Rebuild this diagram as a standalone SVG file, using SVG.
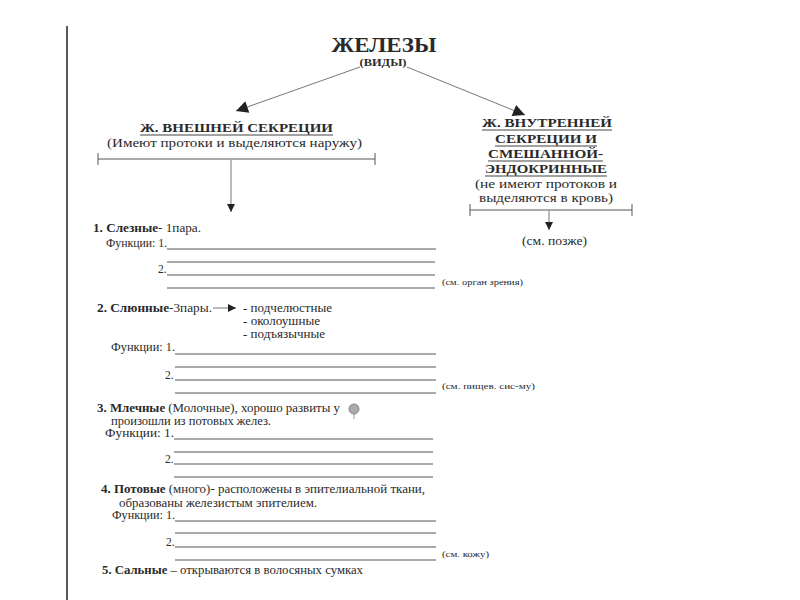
<svg xmlns="http://www.w3.org/2000/svg" width="800" height="600" viewBox="0 0 800 600">
<style>
text{font-family:'Liberation Serif','DejaVu Serif',serif;fill:#2a2a2a}
.b{font-weight:bold}
.h{font-size:13px;font-weight:bold}
.s{font-size:13px}
.t{font-size:12px}
.f{font-size:11.5px}
.n{font-size:9px}
.ln{stroke:#555;stroke-width:1;fill:none}
.ul{stroke:#444;stroke-width:1}
.con{stroke:#777;stroke-width:1;fill:none}
</style>
<defs>
<marker id="ah" viewBox="0 0 10 10" refX="10" refY="5" markerWidth="8" markerHeight="8" markerUnits="userSpaceOnUse" orient="auto"><path d="M0,0L10,5L0,10z" fill="#222"/></marker>
<marker id="ahb" viewBox="0 0 10 10" refX="10" refY="5" markerWidth="16" markerHeight="12" markerUnits="userSpaceOnUse" orient="auto"><path d="M0,0L10,5L0,10z" fill="#222"/></marker>
</defs>
<rect width="800" height="600" fill="#fff"/>
<line x1="67" y1="26" x2="67" y2="600" stroke="#222" stroke-width="1.5"/>

<g id="title">
<text x="384" y="52" text-anchor="middle" style="font-size:21px;font-weight:bold" textLength="105" lengthAdjust="spacingAndGlyphs">ЖЕЛЕЗЫ</text>
<text x="383" y="66" text-anchor="middle" class="b" style="font-size:11px" textLength="47" lengthAdjust="spacingAndGlyphs">(ВИДЫ)</text>
</g>

<g id="connectors">
<line class="con" x1="360" y1="67" x2="236" y2="111" marker-end="url(#ahb)"/>
<line class="con" x1="407" y1="67" x2="525" y2="115" marker-end="url(#ahb)"/>
<line class="con" x1="231" y1="160" x2="231" y2="212" marker-end="url(#ah)"/>
<line class="con" x1="549" y1="211" x2="549" y2="230" marker-end="url(#ah)"/>
<line class="con" x1="213" y1="308" x2="236" y2="308" marker-end="url(#ah)"/>
</g>

<g id="exocrine">
<text x="140" y="132" class="h" textLength="193" lengthAdjust="spacingAndGlyphs">Ж. ВНЕШНЕЙ СЕКРЕЦИИ</text>
<line class="ul" x1="140" y1="135" x2="333" y2="135"/>
<text x="107" y="147" class="s" textLength="255" lengthAdjust="spacingAndGlyphs">(Имеют протоки и выделяются наружу)</text>
<line class="ln" x1="98" y1="159" x2="375" y2="159"/>
<line class="ln" x1="98" y1="153" x2="98" y2="165"/>
<line class="ln" x1="375" y1="153" x2="375" y2="165"/>
</g>

<g id="endocrine">
<text x="482" y="127" class="h" textLength="130" lengthAdjust="spacingAndGlyphs">Ж. ВНУТРЕННЕЙ</text>
<line class="ul" x1="482" y1="130" x2="612" y2="130"/>
<text x="495" y="143" class="h" textLength="102" lengthAdjust="spacingAndGlyphs">СЕКРЕЦИИ И</text>
<line class="ul" x1="495" y1="146" x2="597" y2="146"/>
<text x="488" y="158" class="h" textLength="115" lengthAdjust="spacingAndGlyphs">СМЕШАННОЙ-</text>
<line class="ul" x1="488" y1="161" x2="603" y2="161"/>
<text x="485" y="173" class="h" textLength="122" lengthAdjust="spacingAndGlyphs">ЭНДОКРИННЫЕ</text>
<line class="ul" x1="485" y1="176" x2="607" y2="176"/>
<text x="475" y="188" class="s" textLength="142" lengthAdjust="spacingAndGlyphs">(не имеют протоков и</text>
<text x="479" y="202" class="s" textLength="134" lengthAdjust="spacingAndGlyphs">выделяются в кровь)</text>
<line class="ln" x1="470" y1="210" x2="632" y2="210"/>
<line class="ln" x1="470" y1="204" x2="470" y2="216"/>
<line class="ln" x1="632" y1="204" x2="632" y2="216"/>
<text x="522" y="245" class="t" textLength="65" lengthAdjust="spacingAndGlyphs">(см. позже)</text>
</g>

<g id="item1">
<text x="93" y="232" class="t" textLength="108" lengthAdjust="spacingAndGlyphs"><tspan class="b">1. Слезные</tspan>- 1пара.</text>
<text x="106" y="247" class="f" textLength="61" lengthAdjust="spacingAndGlyphs">Функции: 1.</text>
<line class="ln" x1="167" y1="249" x2="436" y2="249"/>
<line class="ln" x1="167" y1="262" x2="435" y2="262"/>
<text x="158" y="273" class="f">2.</text>
<line class="ln" x1="167" y1="275" x2="435" y2="275"/>
<line class="ln" x1="167" y1="288" x2="435" y2="288"/>
<text x="442" y="285" class="n" textLength="81" lengthAdjust="spacingAndGlyphs">(см. орган зрения)</text>
</g>

<g id="item2">
<text x="97" y="312" class="t" textLength="115" lengthAdjust="spacingAndGlyphs"><tspan class="b">2. Слюнные</tspan>-3пары.</text>
<text x="243" y="312" class="f" textLength="89" lengthAdjust="spacingAndGlyphs">- подчелюстные</text>
<text x="243" y="325" class="f" textLength="77" lengthAdjust="spacingAndGlyphs">- околоушные</text>
<text x="243" y="338" class="f" textLength="82" lengthAdjust="spacingAndGlyphs">- подъязычные</text>
<text x="111" y="351" class="f" textLength="64" lengthAdjust="spacingAndGlyphs">Функции: 1.</text>
<line class="ln" x1="175" y1="354" x2="436" y2="354"/>
<line class="ln" x1="175" y1="367" x2="436" y2="367"/>
<text x="165" y="379" class="f">2.</text>
<line class="ln" x1="175" y1="380" x2="436" y2="380"/>
<line class="ln" x1="175" y1="393" x2="436" y2="393"/>
<text x="442" y="389" class="n" textLength="93" lengthAdjust="spacingAndGlyphs">(см. пищев. сис-му)</text>
</g>

<g id="item3">
<text x="97" y="412" class="t" textLength="243" lengthAdjust="spacingAndGlyphs"><tspan class="b">3. Млечные</tspan> (Молочные), хорошо развиты у</text>
<g id="icon">
<line x1="354" y1="412" x2="354" y2="419" stroke="#999" stroke-width="1"/>
<circle cx="354" cy="409" r="5" fill="#aaa" stroke="#888" stroke-width="1"/>
</g>
<text x="111" y="425" class="f" textLength="160" lengthAdjust="spacingAndGlyphs">произошли из потовых желез.</text>
<text x="105" y="437" class="f" textLength="69" lengthAdjust="spacingAndGlyphs">Функции: 1.</text>
<line class="ln" x1="174" y1="439" x2="433" y2="439"/>
<line class="ln" x1="174" y1="452" x2="433" y2="452"/>
<text x="165" y="463" class="f">2.</text>
<line class="ln" x1="174" y1="464" x2="433" y2="464"/>
<line class="ln" x1="174" y1="477" x2="433" y2="477"/>
</g>

<g id="item4">
<text x="101" y="493" class="t" textLength="324" lengthAdjust="spacingAndGlyphs"><tspan class="b">4. Потовые</tspan> (много)- расположены в эпителиальной ткани,</text>
<text x="119" y="507" class="f" textLength="198" lengthAdjust="spacingAndGlyphs">образованы железистым эпителием.</text>
<text x="112" y="519" class="f" textLength="63" lengthAdjust="spacingAndGlyphs">Функции: 1.</text>
<line class="ln" x1="175" y1="521" x2="436" y2="521"/>
<line class="ln" x1="175" y1="533" x2="436" y2="533"/>
<text x="166" y="546" class="f">2.</text>
<line class="ln" x1="175" y1="547" x2="436" y2="547"/>
<line class="ln" x1="175" y1="560" x2="436" y2="560"/>
<text x="442" y="557" class="n" textLength="47" lengthAdjust="spacingAndGlyphs">(см. кожу)</text>
</g>

<g id="item5">
<text x="102" y="574" class="t" textLength="261" lengthAdjust="spacingAndGlyphs"><tspan class="b">5. Сальные</tspan> – открываются в волосяных сумках</text>
</g>
</svg>
